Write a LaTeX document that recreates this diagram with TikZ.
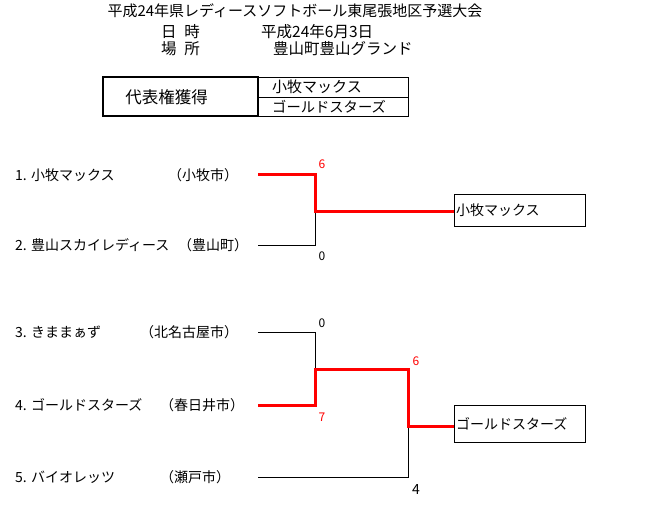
\documentclass[tikz,border=0pt]{standalone}
\usepackage{fontspec}
\setmainfont{Noto Sans CJK JP}
\begin{document}
\begin{tikzpicture}[x=1pt,y=-1pt,
  txt/.style={anchor=west,inner sep=0pt,font=\fontsize{14}{16}\selectfont},
  hdr/.style={anchor=west,inner sep=0pt,font=\fontsize{15.5}{17}\selectfont},
  score/.style={inner sep=0pt,font=\fontsize{12}{13}\selectfont},
  win/.style={draw=red,line width=3pt},
  lose/.style={draw=black,line width=0.8pt},
  resbox/.style={draw,line width=0.8pt,text width=127pt,inner xsep=2pt,inner ysep=0pt,align=left,font=\fontsize{14}{16}\selectfont}]
\useasboundingbox (0,0) rectangle (658,515);
% header
\node[inner sep=0pt,font=\fontsize{15}{17}\selectfont] (title) at (295,11) {平成24年県レディースソフトボール東尾張地区予選大会};
\node[hdr] (dl) at (161,32) {日\hspace{0.5em}時};
\node[hdr] (dv) at (261,32) {平成24年6月3日};
\node[hdr] (pl) at (161,49) {場\hspace{0.5em}所};
\node[hdr] (pv) at (273,49) {豊山町豊山グランド};
% representative box
\node[draw,line width=2pt,minimum width=155pt,minimum height=39pt,inner sep=0pt] (rep) at (180.5,96.5) {};
\node[inner sep=0pt,font=\fontsize{16.5}{18}\selectfont] (replabel) at (166.5,97) {代表権獲得};
\node[draw,line width=0.8pt,minimum width=150pt,minimum height=20pt,inner sep=0pt] (w1box) at (333,87) {};
\node[draw,line width=0.8pt,minimum width=150pt,minimum height=19pt,inner sep=0pt] (w2box) at (333,106.5) {};
\node[txt,font=\fontsize{15}{16}\selectfont] (w1) at (272,87) {小牧マックス};
\node[txt,font=\fontsize{14.3}{16}\selectfont] (w2) at (272,106.5) {ゴールドスターズ};
% teams
\node[txt] (t1) at (15,175) {1. 小牧マックス};
\node[txt] (c1) at (168,175) {（小牧市）};
\node[txt] (t2) at (15,245) {2. 豊山スカイレディース};
\node[txt] (c2) at (178,245) {（豊山町）};
\node[txt] (t3) at (15,332) {3. きままぁず};
\node[txt] (c3) at (140,332) {（北名古屋市）};
\node[txt] (t4) at (15,405) {4. ゴールドスターズ};
\node[txt] (c4) at (160,405) {（春日井市）};
\node[txt] (t5) at (15,477) {5. バイオレッツ};
\node[txt] (c5) at (160,477) {（瀬戸市）};
% bracket coordinates
\coordinate (s1) at (258,174);
\coordinate (s2) at (258,245);
\coordinate (s3) at (258,332);
\coordinate (s4) at (258,405);
\coordinate (s5) at (258,477);
\coordinate (a1) at (315,174);
\coordinate (a2) at (315,245);
\coordinate (j1) at (315,211);
\coordinate (a3) at (315,332);
\coordinate (a4) at (315,405);
\coordinate (j2) at (315,369);
\coordinate (b2) at (408,369);
\coordinate (j3) at (408,426);
\coordinate (b5) at (408,477);
% result boxes
\node[resbox,minimum height=32pt] (r1) at (519.5,210) {小牧マックス};
\node[resbox,minimum height=37pt] (r2) at (519.5,423.5) {ゴールドスターズ};
% connectors
\draw[lose] (s2) -- (a2) -- (j1);
\draw[win] (s1) -- (a1) -- (j1) -- (j1 -| r1.west);
\draw[lose] (s3) -- (a3) -- (j2);
\draw[lose] (s5) -- (b5) -- (j3);
\draw[win] (s4) -- (a4) -- (j2) -- (b2) -- (j3) -- (j3 -| r2.west);
% scores
\node[score,text=red] (n1) at (322,164) {6};
\node[score] (n2) at (322,256) {0};
\node[score] (n3) at (322,323) {0};
\node[score,text=red] (n4) at (322,417) {7};
\node[score,text=red] (n5) at (416,361) {6};
\node[score,font=\fontsize{14}{15}\selectfont] (n6) at (416,489) {4};
\end{tikzpicture}
\end{document}
